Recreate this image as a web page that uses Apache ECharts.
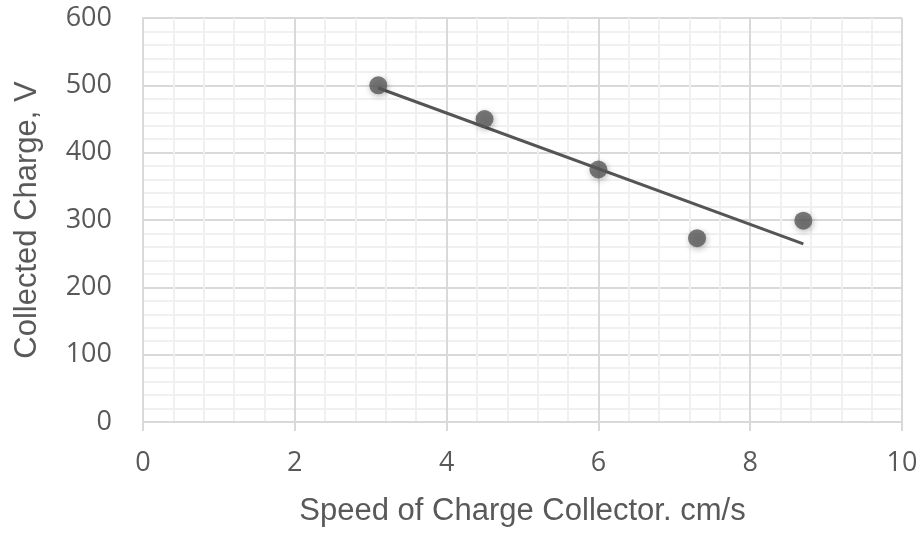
<!DOCTYPE html>
<html><head><meta charset="utf-8">
<script src="https://cdn.jsdelivr.net/npm/echarts@6/dist/echarts.min.js"></script>
<style>html,body{margin:0;padding:0;background:#fff}#c{width:922px;height:536px}</style>
</head><body><div id="c"></div>
<script>
const speeds = [3.1, 4.5, 6.0, 7.3, 8.7];
const charges = [500, 450, 375, 273, 299];
const xTicks = [0, 2, 4, 6, 8, 10];
const yTicks = [0, 100, 200, 300, 400, 500, 600];

// linear trendline (least squares) from data
const n = speeds.length;
const mx = speeds.reduce((a,b)=>a+b,0)/n;
const my = charges.reduce((a,b)=>a+b,0)/n;
let sxy=0, sxx=0;
for (let i=0;i<n;i++){ sxy+=(speeds[i]-mx)*(charges[i]-my); sxx+=(speeds[i]-mx)**2; }
const slope = sxy/sxx, icpt = my - slope*mx;
const xmin = Math.min(...speeds), xmax = Math.max(...speeds);
const trend = [[xmin, icpt+slope*xmin],[xmax, icpt+slope*xmax]];

const tickFont = "'Open Sans', sans-serif";
const titleFont = "'Liberation Sans', Arial, sans-serif";
const chart = echarts.init(document.getElementById('c'));
chart.setOption({
  animation:false,
  grid:{left:143,right:20,top:18,bottom:114,containLabel:false},
  xAxis:{type:'value',min:xTicks[0],max:xTicks[xTicks.length-1],interval:2,
    name:'Speed of Charge Collector. cm/s',nameLocation:'middle',nameGap:74,
    nameTextStyle:{fontFamily:titleFont,fontSize:31,color:'#595959'},
    axisLine:{show:true,lineStyle:{color:'#d9d9d9',width:2}},
    axisTick:{show:true,length:9,lineStyle:{color:'#d9d9d9',width:2}},
    axisLabel:{fontFamily:tickFont,fontSize:27,color:'#595959',margin:28},
    splitLine:{show:true,lineStyle:{color:'#d9d9d9',width:2}},
    minorTick:{show:false,splitNumber:5},
    minorSplitLine:{show:true,lineStyle:{color:'#f0f0f0',width:2}}
  },
  yAxis:{type:'value',min:yTicks[0],max:yTicks[yTicks.length-1],interval:100,
    name:'Collected Charge, V',nameLocation:'middle',nameGap:100,
    nameTextStyle:{fontFamily:titleFont,fontSize:31,color:'#595959'},
    axisLine:{show:true,lineStyle:{color:'#d9d9d9',width:2}},
    axisTick:{show:false},
    axisLabel:{fontFamily:tickFont,fontSize:27,color:'#595959',margin:31},
    splitLine:{show:true,lineStyle:{color:'#d9d9d9',width:2}},
    minorTick:{show:false,splitNumber:5},
    minorSplitLine:{show:true,lineStyle:{color:'#f0f0f0',width:2}}
  },
  series:[
    {type:'line',data:trend,symbol:'none',lineStyle:{color:'#555555',width:3},z:2,silent:true},
    {type:'scatter',data:speeds.map((s,i)=>[s,charges[i]]),symbolSize:18,z:3,
      itemStyle:{color:'#595959',shadowBlur:6,shadowColor:'rgba(0,0,0,0.35)',shadowOffsetX:1,shadowOffsetY:2}}
  ]
});
</script></body></html>
